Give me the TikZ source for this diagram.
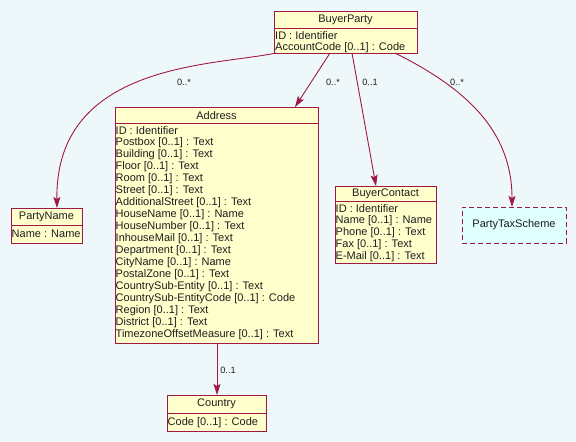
\documentclass[tikz,border=0pt]{standalone}
\usepackage{fontspec}
\setmainfont{Liberation Sans}
\usetikzlibrary{arrows.meta}
\definecolor{bgcol}{RGB}{238,248,250}
\definecolor{linecol}{RGB}{160,24,72}
\definecolor{boxfill}{RGB}{255,255,204}
\definecolor{taxfill}{RGB}{224,255,255}
\definecolor{txtcol}{RGB}{30,30,30}
\tikzset{
  classbox/.style={draw=linecol, fill=boxfill, line width=0.9pt, inner sep=0pt, anchor=north west},
  hdr/.style={font=\fontsize{11}{12}\selectfont, text=txtcol, inner sep=0pt},
  attr/.style={font=\fontsize{11}{12}\selectfont, text=txtcol, inner sep=0pt, anchor=west},
  mult/.style={font=\fontsize{9.2}{10}\selectfont, text=txtcol, inner sep=0pt},
  assoc/.style={draw=linecol, line width=0.9pt, -{Stealth[length=11pt,width=7pt,inset=2pt]}},
}
\begin{document}
\begin{tikzpicture}[x=1pt,y=-1pt]
\useasboundingbox[fill=bgcol] (0,0) rectangle (576,442);

% BuyerParty
\node[classbox, minimum width=143pt, minimum height=42pt] (bp) at (274,11) {};
\draw[linecol, line width=0.9pt] (274,28) -- (417,28);
\node[hdr] (bph) at (345.5,19.5) {BuyerParty};
\node[attr] (bpa1) at (275,35.5) {ID : Identifier};
\node[attr] (bpa2) at (275,47.5) {AccountCode [0..1] : Code};

% Address
\node[classbox, minimum width=203pt, minimum height=236pt] (ad) at (115,107) {};
\draw[linecol, line width=0.9pt] (115,123) -- (318,123);
\node[hdr] (adh) at (216.5,115.5) {Address};
\foreach \t [count=\i from 0] in {{ID : Identifier},{Postbox [0..1] : Text},{Building [0..1] : Text},{Floor [0..1] : Text},{Room [0..1] : Text},{Street [0..1] : Text},{AdditionalStreet [0..1] : Text},{HouseName [0..1] : Name},{HouseNumber [0..1] : Text},{InhouseMail [0..1] : Text},{Department [0..1] : Text},{CityName [0..1] : Name},{PostalZone [0..1] : Text},{CountrySub-Entity [0..1] : Text},{CountrySub-EntityCode [0..1] : Code},{Region [0..1] : Text},{District [0..1] : Text},{TimezoneOffsetMeasure [0..1] : Text}}
  \node[attr] (ada\i) at (115.5,131+12*\i) {\t};

% PartyName
\node[classbox, minimum width=71pt, minimum height=35pt] (pn) at (11,208) {};
\draw[linecol, line width=0.9pt] (11,225) -- (82,225);
\node[hdr] (pnh) at (46.5,216.5) {PartyName};
\node[attr] (pna1) at (11.5,234) {Name : Name};

% BuyerContact
\node[classbox, minimum width=101pt, minimum height=77pt] (bc) at (335,186) {};
\draw[linecol, line width=0.9pt] (335,201) -- (436,201);
\node[hdr] (bch) at (385.5,193.5) {BuyerContact};
\foreach \t [count=\i from 0] in {{ID : Identifier},{Name [0..1] : Name},{Phone [0..1] : Text},{Fax [0..1] : Text},{E-Mail [0..1] : Text}}
  \node[attr] (bca\i) at (335.5,209+12*\i) {\t};

% PartyTaxScheme
\node[draw=linecol, fill=taxfill, line width=0.9pt, dash pattern=on 5pt off 3pt, inner sep=0pt, anchor=north west, minimum width=104pt, minimum height=36pt] (pts) at (462,207) {};
\node[hdr] (ptsh) at (514,225) {PartyTaxScheme};

% Country
\node[classbox, minimum width=99pt, minimum height=36pt] (co) at (167,395) {};
\draw[linecol, line width=0.9pt] (167,413) -- (266,413);
\node[hdr] (coh) at (216.5,404) {Country};
\node[attr] (coa1) at (167.5,422.5) {Code [0..1] : Code};

% connectors
\coordinate (s1) at (276,53);
\coordinate (s2) at (330,53);
\coordinate (s3) at (352,53);
\coordinate (s4) at (395,53);
\coordinate (e1) at (57,208);
\coordinate (e2) at (295,107);
\coordinate (e3) at (376,186);
\coordinate (e4) at (512,207);
\coordinate (s5) at (217,343);
\coordinate (e5) at (217,395);
\draw[assoc] (s1) .. controls (215,66) and (55,62) .. (e1);
\draw[assoc] (s2) -- (e2);
\draw[assoc] (s3) -- (e3);
\draw[assoc] (s4) .. controls (465,88) and (512,130) .. (e4);
\draw[assoc] (s5) -- (e5);

\node[mult] (m1) at (184,82) {0..*};
\node[mult] (m2) at (333,82) {0..*};
\node[mult] (m3) at (370,82) {0..1};
\node[mult] (m4) at (457,82) {0..*};
\node[mult] (m5) at (228,370) {0..1};
\end{tikzpicture}
\end{document}
